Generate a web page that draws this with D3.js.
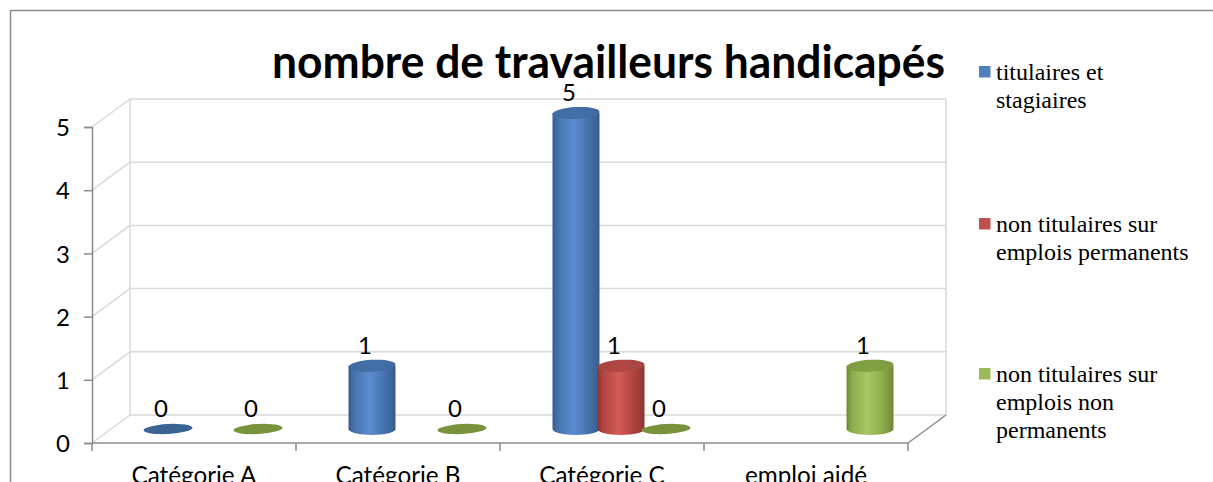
<!DOCTYPE html>
<html><head><meta charset="utf-8">
<script src="https://cdn.jsdelivr.net/npm/d3@7"></script>
<style>body{margin:0;background:#fff;}svg{display:block;}</style>
</head><body>
<svg id="c" width="1213" height="482"></svg>
<script>
const title = "nombre de travailleurs handicapés";
const categories = ["Catégorie A","Catégorie B","Catégorie C","emploi aidé"];
const seriesNames = ["titulaires et stagiaires","non titulaires sur emplois permanents","non titulaires sur emplois non permanents"];
const legendLines = [["titulaires et","stagiaires"],["non titulaires sur","emplois permanents"],["non titulaires sur","emplois non","permanents"]];
const titulaires = [0,1,5,null];
const nonTitPerm = [null,null,1,null];
const nonTitNonPerm = [0,0,0,1];
const yTicks = [0,1,2,3,4,5];

const seriesValues = [titulaires, nonTitPerm, nonTitNonPerm];
const colors = [
  {base:"#4F81BD", dark:"#375C8C", mid:"#4573AE", light:"#5B8DCF", top:"#3F6AA0", zero:"#3A6494"},
  {base:"#C0504D", dark:"#8E3431", mid:"#B04542", light:"#D45B57", top:"#A84441", zero:"#9B3B38"},
  {base:"#9BBB59", dark:"#6D8A35", mid:"#8EAD4C", light:"#A7C764", top:"#7D9A40", zero:"#77933C"}
];

const svg = d3.select("#c");
const defs = svg.append("defs");
colors.forEach((c,i)=>{
  const g = defs.append("linearGradient").attr("id","g"+i).attr("x1","0").attr("x2","1").attr("y1","0").attr("y2","0");
  [[0,c.dark],[0.12,c.mid],[0.45,c.light],[0.75,c.mid],[1,c.dark]].forEach(s=>g.append("stop").attr("offset",s[0]).attr("stop-color",s[1]));
  const t = defs.append("linearGradient").attr("id","t"+i).attr("x1","0").attr("x2","1").attr("y1","0").attr("y2","0");
  [[0,c.top],[0.5,d3.color(c.top).brighter(0.15)],[1,c.top]].forEach(s=>t.append("stop").attr("offset",s[0]).attr("stop-color",s[1]));
});

// frame
svg.append("path").attr("d","M10.5,482 V10.5 H1213").attr("fill","none").attr("stroke","#8a8a8a").attr("stroke-width",1.5);

// scales
const y = d3.scaleLinear().domain([0,5]).range([443,127]);
const x = d3.scaleBand().domain(categories).range([92,908]).padding(0);
const sx = d3.scalePoint().domain(seriesNames).range([-45,45]);
const DX = 38, DY = -28; // depth
const gridColor = "#d9d9d9", axisColor = "#8c8c8c";
const sans = "Lato, 'Open Sans', sans-serif";

// back wall and side wall
const walls = svg.append("g").attr("fill","none").attr("stroke",gridColor).attr("stroke-width",1.5);
yTicks.forEach(v=>{
  walls.append("line").attr("x1",92+DX).attr("x2",908+DX).attr("y1",y(v)+DY).attr("y2",y(v)+DY);
  walls.append("line").attr("x1",92).attr("x2",92+DX).attr("y1",y(v)).attr("y2",y(v)+DY);
});
walls.append("line").attr("x1",92+DX).attr("x2",92+DX).attr("y1",y(0)+DY).attr("y2",y(5)+DY);
walls.append("line").attr("x1",908+DX).attr("x2",908+DX).attr("y1",y(0)+DY).attr("y2",y(5)+DY);
// floor right edge
svg.append("line").attr("x1",908).attr("y1",y(0)).attr("x2",908+DX).attr("y2",y(0)+DY).attr("stroke",axisColor).attr("stroke-width",1.5);

// y axis
const yAxis = d3.axisLeft(y).tickValues(yTicks).tickSize(8).tickPadding(14).tickFormat(d3.format("d"));
const ya = svg.append("g").attr("transform","translate(92,0)").call(yAxis);
ya.select(".domain").attr("stroke",axisColor).attr("stroke-width",1.5);
ya.selectAll(".tick line").attr("stroke",axisColor).attr("stroke-width",1.5);
ya.selectAll(".tick text").attr("font-family",sans).attr("font-size",24).attr("fill","#000").attr("dy","0.36em");

// x axis
const xa = svg.append("g");
xa.append("line").attr("x1",x.range()[0]).attr("x2",x.range()[1]).attr("y1",y(0)).attr("y2",y(0)).attr("stroke",axisColor).attr("stroke-width",1.5);
const bounds = categories.map(c=>x(c)).concat([x.range()[1]]);
xa.selectAll("line.tk").data(bounds).join("line").attr("class","tk")
  .attr("x1",d=>d).attr("x2",d=>d).attr("y1",y(0)).attr("y2",y(0)+8).attr("stroke",axisColor).attr("stroke-width",1.5);
const catText = xa.selectAll("text").data(categories).join("text")
  .attr("x",d=>x(d)+x.bandwidth()/2).attr("y",484).attr("text-anchor","middle")
  .attr("font-family",sans).attr("font-size",22).attr("fill","#000").text(d=>d);
const w0 = catText.node().getComputedTextLength();
catText.attr("font-size", 22*125/w0);

// bars
const RX = 23.5, RY = 6;
const base = y(0) + DY/2;
const bars = svg.append("g");
const labels = svg.append("g");
seriesValues.forEach((vals,si)=>{
  vals.forEach((v,ci)=>{
    if(v===null || v===undefined) return;
    const cx = x(categories[ci]) + x.bandwidth()/2 + DX/2 + sx(seriesNames[si]);
    const top = y(v) + DY/2;
    const c = colors[si];
    if(v>0){
      bars.append("path")
        .attr("d",`M${cx-RX},${top} L${cx-RX},${base} A${RX},${RY} 0 0 0 ${cx+RX},${base} L${cx+RX},${top} Z`)
        .attr("fill",`url(#g${si})`);
      bars.append("ellipse").attr("cx",cx).attr("cy",top).attr("rx",RX).attr("ry",RY)
        .attr("fill",`url(#t${si})`).attr("transform",`rotate(-3 ${cx} ${top})`);
    } else {
      bars.append("ellipse").attr("cx",cx).attr("cy",top).attr("rx",RX+1).attr("ry",RY-1)
        .attr("fill",c.zero).attr("transform",`rotate(-3 ${cx} ${top})`);
    }
    labels.append("text").attr("x",cx-7).attr("y",top-12).attr("text-anchor","middle")
      .attr("font-family",sans).attr("font-size",24).attr("fill","#000").text(v);
  });
});

// title
svg.append("text").attr("x",608.5).attr("y",78).attr("text-anchor","middle")
  .attr("font-family",sans).attr("font-weight",700).attr("font-size",45)
  .attr("textLength",673).attr("lengthAdjust","spacingAndGlyphs").attr("fill","#000").text(title);

// legend
const legTop = [80,232,382];
const lg = svg.append("g");
seriesNames.forEach((s,i)=>{
  lg.append("rect").attr("x",979).attr("y",legTop[i]-14).attr("width",11.5).attr("height",11.5).attr("fill",colors[i].base);
  const t = lg.append("text").attr("x",996).attr("y",legTop[i]).attr("font-family","'Liberation Serif', 'Times New Roman', serif").attr("font-size",24).attr("fill","#000");
  legendLines[i].forEach((l,j)=>t.append("tspan").attr("x",996).attr("dy",j===0?0:28).text(l));
});
</script>
</body></html>
